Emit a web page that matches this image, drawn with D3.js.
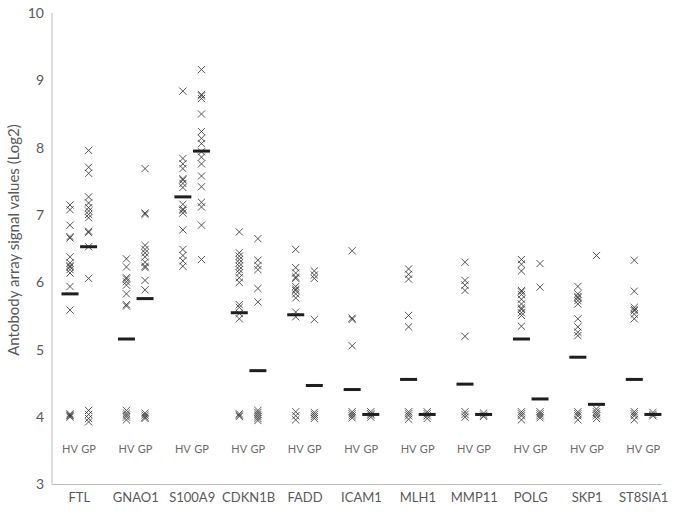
<!DOCTYPE html>
<html><head><meta charset="utf-8">
<script src="https://cdn.jsdelivr.net/npm/d3@7"></script>
<style>body{margin:0;background:#fff}svg{display:block}text{font-family:"Lato","DejaVu Sans",sans-serif}</style>
</head><body><svg id="c" width="675" height="514"></svg>
<script>
const categories = ["FTL","GNAO1","S100A9","CDKN1B","FADD","ICAM1","MLH1","MMP11","POLG","SKP1","ST8SIA1"];
const groups = ["HV","GP"];
const hvValues = [
  [7.15,7.08,6.85,6.68,6.66,6.38,6.29,6.25,6.23,6.19,6.14,5.94,5.59,4.05,4.03,4.02,4.0],
  [6.35,6.23,6.07,6.05,6.01,5.96,5.83,5.67,5.65,4.1,4.06,4.03,4.0,3.96],
  [8.84,7.84,7.76,7.69,7.54,7.52,7.47,7.41,7.16,7.09,7.07,7.03,6.78,6.49,6.40,6.32,6.24],
  [6.75,6.44,6.39,6.34,6.29,6.24,6.19,6.14,6.07,6.00,5.67,5.63,5.54,5.46,4.05,4.03,4.01],
  [6.49,6.22,6.14,6.08,6.06,5.94,5.90,5.88,5.83,5.77,5.56,5.49,4.08,4.02,3.96],
  [6.47,5.47,5.45,5.06,4.08,4.05,4.02,3.99],
  [6.20,6.12,6.05,5.51,5.34,4.08,4.05,4.02,3.97],
  [6.30,6.03,5.96,5.88,5.20,4.08,4.04,4.0],
  [6.34,6.27,6.17,5.88,5.86,5.82,5.75,5.68,5.62,5.60,5.55,5.51,5.35,4.08,4.05,4.02,3.96],
  [5.94,5.83,5.79,5.77,5.73,5.68,5.46,5.34,5.26,5.21,4.08,4.05,4.02,3.96],
  [6.33,5.87,5.63,5.60,5.58,5.53,5.46,4.08,4.05,4.02,3.96]
];
const gpValues = [
  [7.96,7.71,7.62,7.27,7.18,7.11,7.06,7.01,6.96,6.76,6.74,6.53,6.06,4.1,4.04,3.98,3.93],
  [7.69,7.03,7.01,6.55,6.49,6.44,6.38,6.30,6.24,6.22,6.03,5.89,4.06,4.03,4.0,3.98],
  [9.16,8.79,8.77,8.73,8.50,8.24,8.14,8.06,7.94,7.86,7.76,7.58,7.42,7.19,7.12,6.85,6.34],
  [6.65,6.33,6.25,6.19,5.91,5.71,4.1,4.07,4.04,4.01,3.98,3.95],
  [6.17,6.11,6.06,5.45,4.07,4.04,4.01,3.98],
  [4.08,4.05,4.03,4.0],
  [4.08,4.05,4.02,3.98],
  [4.06,4.03,4.01],
  [6.28,5.93,4.08,4.05,4.02,3.99],
  [6.40,4.12,4.08,4.05,4.02,3.98],
  [4.07,4.04,4.02]
];
const hvMeans = [5.83,5.16,7.27,5.55,5.52,4.41,4.56,4.49,5.16,4.89,4.56];
const gpMeans = [6.53,5.76,7.95,4.69,4.47,4.04,4.04,4.04,4.27,4.19,4.04];
const yTicks = [3,4,5,6,7,8,9,10];
const yTitle = "Antobody array signal values (Log2)";

const svg = d3.select("#c");
const y = d3.scaleLinear().domain([3,10]).range([484.5,13]);
const x = d3.scaleBand().domain(categories).range([51.1,671.8]);
const gx = d3.scalePoint().domain(groups).range([-9.3,9.3]);
const cx = (c,g) => x(c) + x.bandwidth()/2 + gx(g);

// axes lines
svg.append("line").attr("x1",52).attr("x2",52).attr("y1",y(10)).attr("y2",y(3)).attr("stroke","#bdbdbd").attr("stroke-width",1);
svg.append("line").attr("x1",52).attr("x2",662).attr("y1",y(3)).attr("y2",y(3)).attr("stroke","#bdbdbd").attr("stroke-width",1);

// y tick labels
const yAxis = d3.axisLeft(y).tickValues(yTicks).tickSize(0).tickPadding(8).tickFormat(d3.format("d"));
const ya = svg.append("g").attr("transform","translate(52,0)").call(yAxis);
ya.select(".domain").remove();
ya.selectAll("text").attr("fill","#595959").attr("font-size",14).style("font-family","Lato, 'DejaVu Sans', sans-serif");

// y title
svg.append("text").attr("transform","translate(19,"+ (240) +") rotate(-90)")
  .attr("text-anchor","middle").attr("font-size",15).attr("fill","#595959").text(yTitle);

// category labels
svg.append("g").selectAll("text").data(categories).join("text")
  .attr("x",d=>x(d)+x.bandwidth()/2).attr("y",502).attr("text-anchor","middle")
  .attr("font-size",13).attr("fill","#595959").text(d=>d);

// HV GP labels
categories.forEach(c=>{
  groups.forEach(g=>{
    svg.append("text").attr("x",cx(c,g)).attr("y",453).attr("text-anchor","middle")
      .attr("font-size",11).attr("fill","#6b6b6b").text(g);
  });
});

// markers
const r = 3.6;
const xPath = `M${-r},${-r}L${r},${r}M${-r},${r}L${r},${-r}`;
const pts = [];
categories.forEach((c,i)=>{
  hvValues[i].forEach(v=>pts.push({c,g:"HV",v}));
  gpValues[i].forEach(v=>pts.push({c,g:"GP",v}));
});
svg.append("g").selectAll("path").data(pts).join("path")
  .attr("transform",d=>`translate(${cx(d.c,d.g)},${y(d.v)})`)
  .attr("d",xPath).attr("stroke","#3a3a3a").attr("stroke-width",1).attr("fill","none").attr("opacity",0.85);

// mean bars
const means = [];
categories.forEach((c,i)=>{
  means.push({c,g:"HV",v:hvMeans[i]});
  means.push({c,g:"GP",v:gpMeans[i]});
});
svg.append("g").selectAll("rect").data(means).join("rect")
  .attr("x",d=>cx(d.c,d.g)-8.5).attr("y",d=>y(d.v)-1.5).attr("width",17).attr("height",3)
  .attr("fill","#1e1e1e");
</script></body></html>
